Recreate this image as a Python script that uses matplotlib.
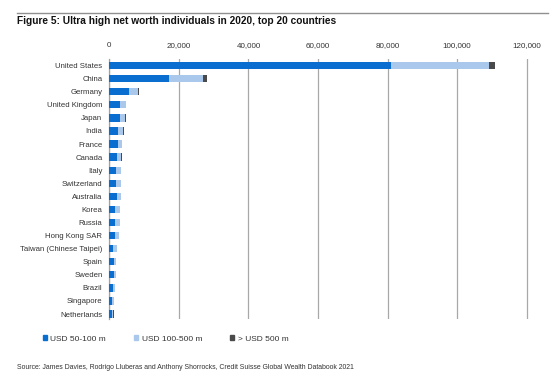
import matplotlib
matplotlib.use("Agg")
import matplotlib.pyplot as plt
from matplotlib.lines import Line2D
import numpy as np

countries = ["United States", "China", "Germany", "United Kingdom", "Japan", "India",
             "France", "Canada", "Italy", "Switzerland", "Australia", "Korea", "Russia",
             "Hong Kong SAR", "Taiwan (Chinese Taipei)", "Spain", "Sweden", "Brazil",
             "Singapore", "Netherlands"]
usd_50_100 = [81000, 17200, 5700, 3200, 3200, 2500, 2500, 2200, 2000, 1850, 2100, 1700,
              1550, 1550, 1150, 1350, 1350, 1000, 800, 850]
usd_100_500 = [28300, 9700, 2550, 1500, 1400, 1500, 1150, 1200, 1250, 1400, 1250, 1250,
               1450, 1200, 950, 650, 550, 700, 450, 300]
usd_500_plus = [1500, 1200, 350, 200, 150, 200, 100, 100, 100, 150, 100, 100,
                150, 100, 100, 50, 50, 50, 50, 50]
series_labels = ["USD 50-100 m", "USD 100-500 m", "> USD 500 m"]
xticks = [0, 20000, 40000, 60000, 80000, 100000, 120000]

colors = ["#0a6ed1", "#a9c8ec", "#4a4a4a"]
plt.rcParams['font.family'] = ['Liberation Sans', 'DejaVu Sans']

fig = plt.figure(figsize=(5.58, 3.79), dpi=100)
ax = fig.add_axes([0.196, 0.1575, 0.950 - 0.196, 0.6868])

y = np.arange(len(countries))
a = np.array(usd_50_100)
b = np.array(usd_100_500)
c = np.array(usd_500_plus)
h = 0.56
ax.barh(y, a, height=h, color=colors[0], zorder=3)
ax.barh(y, b, left=a, height=h, color=colors[1], zorder=3)
ax.barh(y, c, left=a + b, height=h, color=colors[2], zorder=3)

ax.set_xlim(0, 121000)
ax.set_ylim(19.4, -0.5)
ax.set_yticks(y)
ax.set_yticklabels(countries, fontsize=5.6, color="#333333")
ax.set_xticks(xticks)
ax.set_xticklabels([f"{v:,}" for v in xticks], fontsize=5.8, color="#333333")
ax.xaxis.tick_top()
ax.tick_params(axis="both", length=0)
ax.tick_params(axis="y", pad=5)
ax.tick_params(axis="x", pad=7)
for s in ["top", "right", "bottom"]:
    ax.spines[s].set_visible(False)
ax.spines["left"].set_color("#a0a0a0")
ax.spines["left"].set_linewidth(0.9)
ax.grid(axis="x", color="#a8a8a8", linewidth=0.9, zorder=0)
ax.set_axisbelow(True)

# top rule and title
fig.add_artist(Line2D([16.7 / 558, 548 / 558], [1 - 13 / 379, 1 - 13 / 379],
                      color="#909090", linewidth=1.0))
fig.text(16.7 / 558, 1 - 21.5 / 379, "Figure 5: Ultra high net worth individuals in 2020, top 20 countries",
         fontsize=7.3, fontweight="bold", va="center", ha="left", color="#111111")

handles = [plt.Rectangle((0, 0), 1, 1, color=col) for col in colors]
fig.legend(handles, series_labels, loc="center left", bbox_to_anchor=(35 / 558, 1 - 339 / 379),
           ncol=3, frameon=False, fontsize=6.0, handlelength=0.5, handleheight=0.5,
           handletextpad=0.45, columnspacing=3.3, labelcolor="#333333")

fig.text(16.7 / 558, 1 - 367.5 / 379,
         "Source: James Davies, Rodrigo Lluberas and Anthony Shorrocks, Credit Suisse Global Wealth Databook 2021",
         fontsize=4.94, va="center", ha="left", color="#333333")

fig.savefig("out.png", dpi=100)
